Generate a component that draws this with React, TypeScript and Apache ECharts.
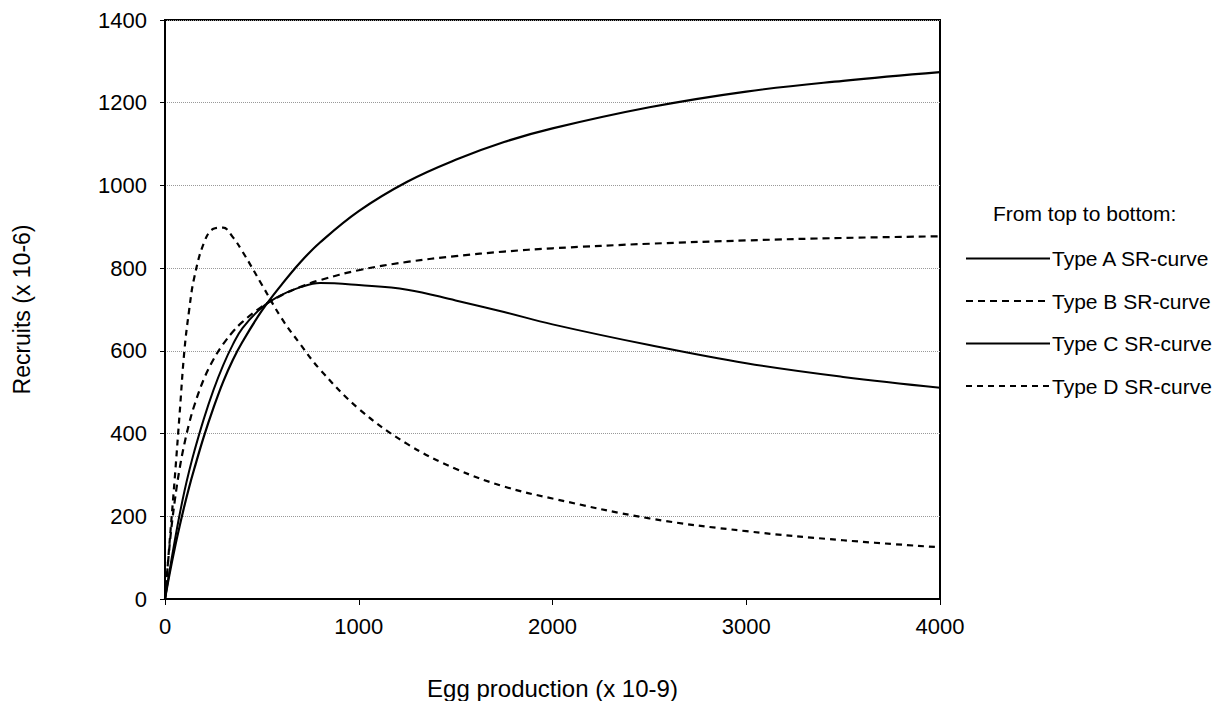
import React, { useEffect, useRef } from "react";
import * as echarts from "echarts";

// Egg production (x 10-9)
const eggs = [0, 25, 50, 75, 100, 125, 150, 200, 250, 300, 350, 400, 500, 600, 700, 800, 1000, 1250, 1500, 1750, 2000, 2500, 3000, 3500, 4000];

// Recruits (x 10-6)
const typeA = [0, 64, 122, 175, 225, 271, 313, 392, 462, 525, 578, 622, 697, 759, 815, 862, 938, 1009, 1062, 1105, 1138, 1189, 1227, 1253, 1274];
const typeB = [0, 136, 236, 314, 375, 425, 466, 531, 579, 616, 646, 670, 707, 734, 755, 771, 795, 815, 829, 840, 848, 859, 867, 873, 877];
const typeC = [0, 72, 140, 203, 260, 310, 355, 435, 505, 565, 615, 655, 705, 735, 754, 764, 759, 748, 722, 694, 664, 614, 570, 537, 511];
const typeD = [0, 145, 290, 445, 600, 700, 775, 860, 895, 898, 875, 840, 760, 680, 615, 555, 460, 375, 315, 272, 243, 195, 164, 142, 125];

const seriesNames = ["Type A SR-curve", "Type B SR-curve", "Type C SR-curve", "Type D SR-curve"];
const xTicks = [0, 1000, 2000, 3000, 4000];
const yTicks = [0, 200, 400, 600, 800, 1000, 1200, 1400];

const FONT = "Arial, 'Liberation Sans', Helvetica, sans-serif";

function pairs(ys: number[]) {
  return eggs.map((x, i) => [x, ys[i]]);
}

export default function App() {
  const ref = useRef<HTMLDivElement>(null);
  useEffect(() => {
    if (!ref.current) return;
    const chart = echarts.init(ref.current, undefined, { renderer: "svg" });
    const styles = [
      { type: "solid", width: 2.2 },
      { type: [7, 5], width: 2.2 },
      { type: "solid", width: 2 },
      { type: [6, 5], width: 2.2 },
    ];
    const data = [typeA, typeB, typeC, typeD];
    chart.setOption({
      animation: false,
      backgroundColor: "#fff",
      textStyle: { fontFamily: FONT, color: "#000" },
      grid: {
        left: 157,
        top: 12,
        right: 279,
        bottom: 102,
        containLabel: false,
        outerBoundsMode: "none",
        show: true,
        borderColor: "#000",
        borderWidth: 2,
        backgroundColor: "transparent",
      },
      xAxis: {
        type: "value",
        min: xTicks[0],
        max: xTicks[xTicks.length - 1],
        interval: 1000,
        name: "Egg production (x 10-9)",
        nameLocation: "middle",
        nameGap: 77,
        nameTextStyle: { fontSize: 24, color: "#000", fontFamily: FONT },
        axisLine: { show: true, lineStyle: { color: "#000", width: 2 } },
        axisTick: { show: true, inside: false, length: 6, lineStyle: { color: "#000", width: 1 } },
        axisLabel: { fontSize: 22, color: "#000", margin: 16, fontFamily: FONT, formatter: (v: number) => String(v) },
        splitLine: { show: false },
      },
      yAxis: {
        type: "value",
        min: yTicks[0],
        max: yTicks[yTicks.length - 1],
        interval: 200,
        name: "Recruits (x 10-6)",
        nameLocation: "middle",
        nameGap: 132,
        nameRotate: 90,
        nameTextStyle: { fontSize: 23, color: "#000", fontFamily: FONT },
        axisLine: { show: true, lineStyle: { color: "#000", width: 2 } },
        axisTick: { show: true, inside: false, length: 5, lineStyle: { color: "#000", width: 1 } },
        axisLabel: { fontSize: 22, color: "#000", margin: 18, fontFamily: FONT, formatter: (v: number) => String(v) },
        splitLine: { show: true, lineStyle: { color: "#999", width: 1, type: [1, 1] } },
      },
      legend: {
        orient: "vertical",
        left: 957,
        top: 240,
        padding: 0,
        itemWidth: 84,
        itemHeight: 14,
        itemGap: 21.5,
        itemStyle: { color: "transparent", borderWidth: 0, opacity: 0 },
        textStyle: { fontSize: 21, color: "#000", fontFamily: FONT, padding: [0, 0, 0, -3] },
        data: seriesNames,
      },
      graphic: [
        {
          type: "text",
          left: 985,
          top: 195,
          style: { text: "From top to bottom:", fontSize: 21, fill: "#000", fontFamily: FONT },
        },
      ],
      series: seriesNames.map((name, i) => ({
        name,
        type: "line",
        data: pairs(data[i]),
        symbol: "none",
        showSymbol: false,
        smooth: 0.4,
        lineStyle: { color: "#000", width: styles[i].width, type: styles[i].type },
        itemStyle: { color: "#000" },
        z: 3,
      })),
    });
    return () => chart.dispose();
  }, []);
  return <div ref={ref} style={{ width: 1211, height: 693 }} />;
}
